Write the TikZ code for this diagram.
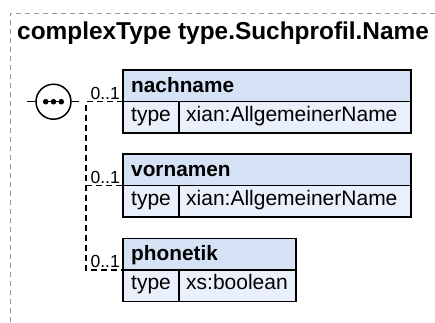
\documentclass[tikz,border=0pt]{standalone}
\usepackage{fontspec}
\setmainfont{Liberation Sans}
\usetikzlibrary{calc}
\definecolor{hdrblue}{RGB}{213,226,246}
\definecolor{rowblue}{RGB}{233,240,251}
\definecolor{framegray}{RGB}{150,150,150}
\begin{document}
\begin{tikzpicture}[x=1pt,y=-1pt,
  hdr/.style={draw=black, line width=1.4pt, fill=hdrblue, minimum height=31.7pt, inner sep=0pt, outer sep=0pt, anchor=north west},
  cell/.style={draw=black, line width=1.4pt, fill=rowblue, minimum height=31.3pt, inner sep=0pt, outer sep=0pt, anchor=north west},
  nametxt/.style={font=\fontsize{20.8}{24}\bfseries, anchor=base west, inner sep=0pt},
  bodytxt/.style={font=\fontsize{21}{24}\selectfont, anchor=base west, inner sep=0pt},
  card/.style={font=\fontsize{17.5}{20}\selectfont, anchor=base east, inner sep=0pt},
  conn/.style={draw=black, line width=1.3pt, dash pattern=on 6pt off 4pt},
  stub/.style={draw=black, line width=1.4pt},
]
\useasboundingbox (0,0) rectangle (435,322);
\clip (0,0) rectangle (435,322);
% outer frame
\draw[framegray, line width=1pt, dash pattern=on 5pt off 4pt] (10,340) -- (10,13) -- (450,13);
% title
\node[font=\fontsize{24.4}{28}\bfseries, anchor=base west, inner sep=0pt] (title) at (17,39) {complexType type.Suchprofil.Name};
% boxes
\node[hdr, minimum width=288pt] (nachH) at (123,70) {};
\node[cell, minimum width=56pt] (nachT) at (123,101.7) {};
\node[cell, minimum width=232pt] (nachV) at (179,101.7) {};
\node[nametxt] (nachN) at ($(nachH.south west)+(8,-9.5)$) {nachname};
\node[bodytxt] (nachTt) at ($(nachT.south west)+(8,-12)$) {type};
\node[bodytxt] (nachVt) at ($(nachV.south west)+(7,-12)$) {xian:AllgemeinerName};

\node[hdr, minimum width=288pt] (vornH) at (123,154) {};
\node[cell, minimum width=56pt] (vornT) at (123,185.7) {};
\node[cell, minimum width=232pt] (vornV) at (179,185.7) {};
\node[nametxt] (vornN) at ($(vornH.south west)+(8,-9.5)$) {vornamen};
\node[bodytxt] (vornTt) at ($(vornT.south west)+(8,-12)$) {type};
\node[bodytxt] (vornVt) at ($(vornV.south west)+(7,-12)$) {xian:AllgemeinerName};

\node[hdr, minimum width=173pt] (phonH) at (123,238.3) {};
\node[cell, minimum width=56pt] (phonT) at (123,270) {};
\node[cell, minimum width=117pt] (phonV) at (179,270) {};
\node[nametxt] (phonN) at ($(phonH.south west)+(8,-9.5)$) {phonetik};
\node[bodytxt] (phonTt) at ($(phonT.south west)+(8,-12)$) {type};
\node[bodytxt] (phonVt) at ($(phonV.south west)+(7,-12)$) {xs:boolean};

% sequence compositor
\node[circle, draw=black, line width=1.5pt, minimum size=35pt, inner sep=0pt, fill=white] (seq) at (53.5,101.7) {};
\coordinate (seqL) at (27,101.7);
\coordinate (seqR) at (79,101.7);
\draw[stub] (seqL) -- (seq.west);
\draw[stub] (seq.east) -- (seqR);
\draw[stub] ($(seq.center)+(-7.8,0)$) -- ($(seq.center)+(7.8,0)$);
\fill ($(seq.center)+(-7.8,0)$) circle (2.8);
\fill (seq.center) circle (2.8);
\fill ($(seq.center)+(7.8,0)$) circle (2.8);

% connectors
\coordinate (vx) at (86,0);
\draw[conn] (nachH.south west) -- (nachH.south west -| vx) -- (phonH.south west -| vx) -- (phonH.south west);
\draw[conn] (vornH.south west -| vx) -- (vornH.south west);

% cardinalities
\node[card] (c1) at ($(nachH.south west)+(-3,-2.5)$) {0..1};
\node[card] (c2) at ($(vornH.south west)+(-3,-2.5)$) {0..1};
\node[card] (c3) at ($(phonH.south west)+(-3,-2.5)$) {0..1};
\end{tikzpicture}
\end{document}
